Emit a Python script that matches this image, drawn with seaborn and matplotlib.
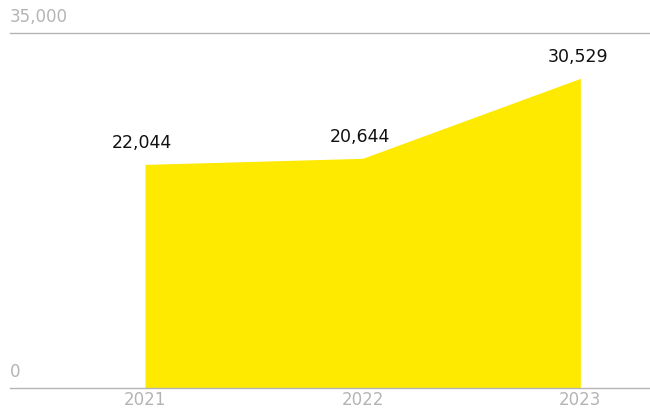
import numpy as np
import pandas as pd
import matplotlib
matplotlib.use("Agg")
import matplotlib.pyplot as plt
import seaborn as sns

years = ["2021", "2022", "2023"]
values = [22044, 22644, 30529]          # plotted height
value_labels = ["22,044", "20,644", "30,529"]  # text as printed on the chart
ytick_values = [0, 35000]
ytick_labels = ["0", "35,000"]

yellow = "#FEE900"
grey = "#b4b4b4"

sns.set_style("white")
plt.rcParams["font.family"] = ["DejaVu Sans"]

df = pd.DataFrame({"year": years, "value": values})
x = np.arange(len(years))

fig = plt.figure(figsize=(6.5, 4.11), dpi=100)
ax = fig.add_axes([10 / 650, 23 / 411, 640 / 650, 355 / 411])

sns.lineplot(x=x, y=df["value"], ax=ax, color=yellow, linewidth=0)
ax.fill_between(x, 0, df["value"], color=yellow, linewidth=0)

ax.set_xlim(-0.62, 2.32)
ax.set_ylim(0, 35000)

for sp in ["left", "right"]:
    ax.spines[sp].set_visible(False)
ax.spines["top"].set_color(grey)
ax.spines["bottom"].set_color(grey)
ax.spines["top"].set_linewidth(1)
ax.spines["bottom"].set_linewidth(1)

ax.set_yticks([])
ax.set_xticks(x)
ax.set_xticklabels(years, color=grey, fontsize=12)
ax.tick_params(axis="x", length=0, pad=2.5)
ax.set_xlabel("")
ax.set_ylabel("")

for v, t in zip(ytick_values, ytick_labels):
    ax.annotate(t, (0, v), xycoords=("axes fraction", "data"),
                xytext=(0, 5), textcoords="offset points",
                ha="left", va="bottom", color=grey, fontsize=12)

for xi, v, t in zip(x, values, value_labels):
    ax.annotate(t, (xi, v), xytext=(-2, 9), textcoords="offset points",
                ha="center", va="bottom", color="#111111", fontsize=12.5)

plt.savefig("out.png", dpi=100)
